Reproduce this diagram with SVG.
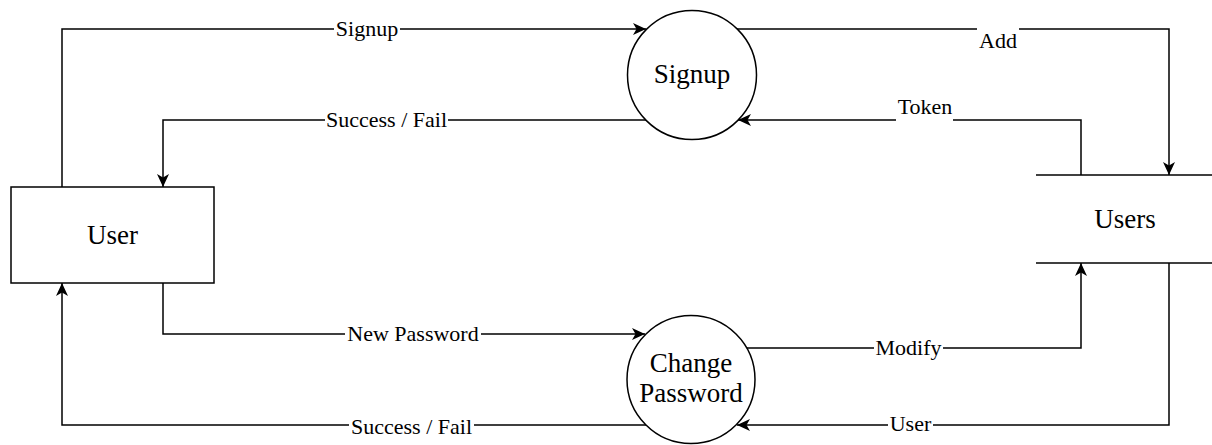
<svg xmlns="http://www.w3.org/2000/svg" width="1212" height="445" viewBox="0 0 1212 445">
<style>
.node{fill:#fff;stroke:#000;stroke-width:1.5}
.line{fill:none;stroke:#000;stroke-width:1.5}
.ntxt{font-family:"Liberation Serif","Times New Roman",serif;font-size:27px;fill:#000;text-anchor:middle}
.ltxt{font-family:"Liberation Serif","Times New Roman",serif;font-size:22px;fill:#000;text-anchor:middle}
.lbg{fill:#fff}
</style>
<defs>
<marker id="arr" markerUnits="userSpaceOnUse" markerWidth="14" markerHeight="12" viewBox="0 0 14 12" refX="13" refY="6" orient="auto">
<path d="M0,0 L13,6 L0,12 L3.5,6 z" fill="#000"/>
</marker>
</defs>
<g id="connectors">
<path class="line" d="M62,187 V29 H646" marker-end="url(#arr)"/>
<path class="line" d="M646,120 H163 V187" marker-end="url(#arr)"/>
<path class="line" d="M737,29 H1169 V175" marker-end="url(#arr)"/>
<path class="line" d="M1081,175 V120 H738" marker-end="url(#arr)"/>
<path class="line" d="M163,283 V334 H645" marker-end="url(#arr)"/>
<path class="line" d="M747,348 H1081 V263" marker-end="url(#arr)"/>
<path class="line" d="M1169,263 V425 H737" marker-end="url(#arr)"/>
<path class="line" d="M646,425 H62 V283" marker-end="url(#arr)"/>
<rect class="lbg" x="334" y="19" width="66" height="21"/>
<text class="ltxt" x="367" y="36">Signup</text>
<rect class="lbg" x="325" y="110" width="123" height="20"/>
<text class="ltxt" x="386.5" y="127">Success / Fail</text>
<rect class="lbg" x="977" y="28" width="42" height="23"/>
<text class="ltxt" x="998" y="48">Add</text>
<rect class="lbg" x="896" y="99" width="57" height="22"/>
<text class="ltxt" x="925" y="114">Token</text>
<rect class="lbg" x="345" y="324" width="136" height="21"/>
<text class="ltxt" x="413" y="341">New Password</text>
<rect class="lbg" x="874" y="337" width="69" height="23"/>
<text class="ltxt" x="908.5" y="355">Modify</text>
<rect class="lbg" x="888" y="415" width="45" height="20"/>
<text class="ltxt" x="910.5" y="431">User</text>
<rect class="lbg" x="349" y="416" width="125" height="22"/>
<text class="ltxt" x="411.5" y="434">Success / Fail</text>
</g>
<g id="user">
<rect class="node" x="11" y="187" width="203" height="96"/>
<text class="ntxt" x="112.5" y="244">User</text>
</g>
<g id="signup">
<ellipse class="node" cx="692" cy="75" rx="64.5" ry="64.5"/>
<text class="ntxt" x="692" y="83">Signup</text>
</g>
<g id="change-password">
<ellipse class="node" cx="691" cy="379.5" rx="64" ry="64"/>
<text class="ntxt" x="691" y="372">Change</text>
<text class="ntxt" x="691" y="402">Password</text>
</g>
<g id="users">
<line class="line" x1="1036" y1="175" x2="1212" y2="175"/>
<line class="line" x1="1036" y1="263" x2="1212" y2="263"/>
<text class="ntxt" x="1125" y="228">Users</text>
</g>
</svg>
